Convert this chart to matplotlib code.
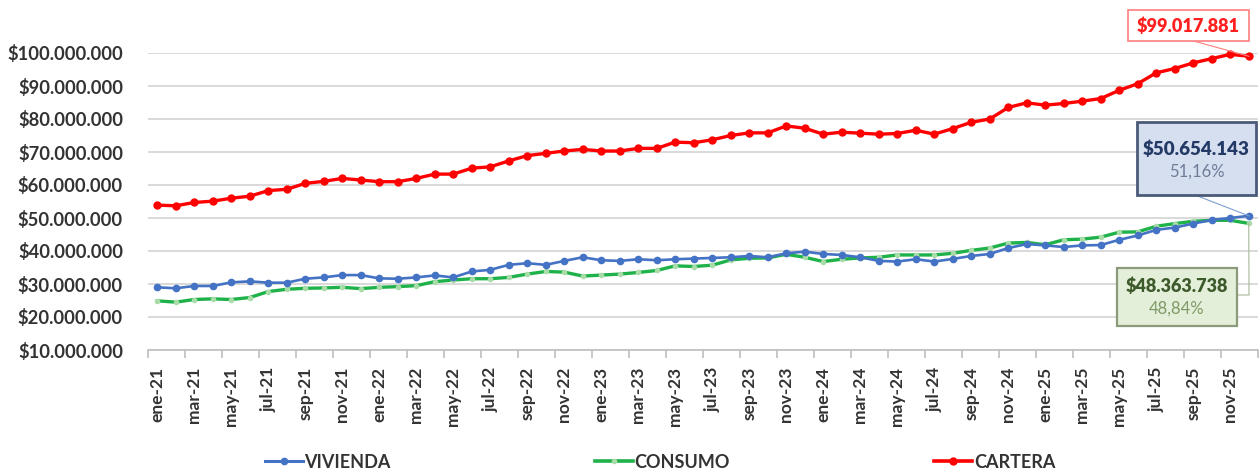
import matplotlib
matplotlib.use("Agg")
import matplotlib.pyplot as plt
from matplotlib.patches import Rectangle
from matplotlib.lines import Line2D
from matplotlib.ticker import FuncFormatter, FixedLocator

# ---------------- data (millions of pesos) ----------------
meses = ['ene', 'feb', 'mar', 'abr', 'may', 'jun', 'jul', 'ago', 'sep', 'oct', 'nov', 'dic']
anios = ['21', '22', '23', '24', '25']
categorias = [f"{m}-{a}" for a in anios for m in meses]

vivienda = [29.0, 28.7, 29.4, 29.4, 30.5, 30.8, 30.4, 30.4, 31.6, 32.0,
            32.7, 32.7, 31.7, 31.6, 32.0, 32.6, 32.0, 33.8, 34.3, 35.8,
            36.3, 35.8, 37.0, 38.1, 37.2, 37.0, 37.5, 37.2, 37.5, 37.7,
            37.9, 38.1, 38.5, 38.1, 39.3, 39.8, 39.1, 38.8, 38.1, 37.0,
            36.8, 37.5, 36.8, 37.6, 38.5, 39.1, 40.9, 42.1, 41.7, 41.2,
            41.7, 41.8, 43.4, 44.7, 46.4, 47.1, 48.3, 49.4, 50.0, 50.654143]

consumo = [24.9, 24.5, 25.3, 25.5, 25.3, 25.9, 27.7, 28.4, 28.7, 28.8,
           29.0, 28.6, 29.0, 29.2, 29.5, 30.7, 31.2, 31.6, 31.6, 32.0,
           33.0, 33.8, 33.6, 32.4, 32.7, 33.0, 33.5, 34.1, 35.5, 35.3,
           35.7, 37.3, 37.8, 37.9, 39.0, 38.1, 36.8, 37.5, 37.9, 38.1,
           38.8, 38.8, 38.8, 39.3, 40.2, 40.9, 42.4, 42.6, 41.9, 43.4,
           43.6, 44.2, 45.7, 45.8, 47.5, 48.3, 49.0, 49.3, 49.3, 48.363738]

cartera = [53.9, 53.7, 54.7, 55.1, 56.0, 56.6, 58.3, 58.7, 60.5, 61.1,
           62.0, 61.5, 61.0, 61.0, 62.0, 63.3, 63.3, 65.1, 65.5, 67.3,
           68.9, 69.6, 70.3, 70.8, 70.3, 70.3, 71.1, 71.1, 73.0, 72.8,
           73.7, 75.0, 75.8, 75.8, 77.9, 77.2, 75.4, 76.0, 75.7, 75.4,
           75.6, 76.6, 75.4, 77.1, 79.0, 80.0, 83.5, 84.9, 84.2, 84.7,
           85.4, 86.2, 88.7, 90.7, 94.0, 95.3, 97.0, 98.3, 99.6, 99.017881]

etiqueta_cartera = "$99.017.881"
etiqueta_vivienda = ("$50.654.143", "51,16%")
etiqueta_consumo = ("$48.363.738", "48,84%")

# ---------------- figure ----------------
W, H = 1260, 472
fig = plt.figure(figsize=(W / 100, H / 100), dpi=100)
FONT = "Lato"
TXT = "#333333"

def fx(px):
    return px / W

def fy(py):  # py measured from top
    return 1 - py / H

ax = fig.add_axes([fx(148), fy(350), fx(1258) - fx(148), fy(53) - fy(350)])

x = list(range(len(categorias)))
c_viv, c_con, c_car = "#4472c4", "#1fb24a", "#ff0000"

ax.plot(x, consumo, color=c_con, lw=2.4, marker="o", ms=3.0, mfc="#a8dca8",
        mec="#a8dca8", zorder=3, clip_on=False)
ax.plot(x, vivienda, color=c_viv, lw=1.9, marker="o", ms=4.5, mfc=c_viv,
        mec=c_viv, zorder=4, clip_on=False)
ax.plot(x, cartera, color=c_car, lw=2.4, marker="o", ms=5, mfc=c_car,
        mec=c_car, zorder=4, clip_on=False)

ax.set_xlim(-0.5, len(categorias) - 0.5)
ax.set_ylim(10, 100)
ax.set_yticks(range(10, 101, 10))
ax.yaxis.set_major_formatter(FuncFormatter(lambda v, p: "$" + f"{int(round(v * 1e6)):,}".replace(",", ".")))
ax.grid(axis="y", color="#d9d9d9", lw=1.4)
ax.set_axisbelow(True)

ax.set_xticks(x[::2])
ax.set_xticklabels(categorias[::2], rotation=90)
ax.xaxis.set_minor_locator(FixedLocator([i - 0.5 for i in range(0, len(categorias) + 1, 2)]))
ax.tick_params(axis="x", which="major", length=0, pad=12)
ax.tick_params(axis="x", which="minor", length=6, color="#bfbfbf", width=1.2)
ax.tick_params(axis="y", length=0, pad=18)

for lab in ax.get_xticklabels():
    lab.set_fontfamily(FONT); lab.set_fontweight("bold"); lab.set_fontsize(12.5); lab.set_color(TXT)
for lab in ax.get_yticklabels():
    lab.set_fontfamily(FONT); lab.set_fontweight("bold"); lab.set_fontsize(13.2); lab.set_color(TXT)

for s in ["top", "right", "left"]:
    ax.spines[s].set_visible(False)
ax.spines["bottom"].set_color("#bfbfbf")
ax.spines["bottom"].set_linewidth(1.2)

# ---------------- data labels ----------------
last = len(categorias) - 1

def box(x0, y0, x1, y1, fc, ec, lw):
    r = Rectangle((fx(x0), fy(y1)), fx(x1) - fx(x0), fy(y0) - fy(y1),
                  transform=fig.transFigure, fc=fc, ec=ec, lw=lw, zorder=10)
    fig.add_artist(r)

def leader(pts_px, xy_data, color):
    xs = [fx(p[0]) for p in pts_px]
    ys = [fy(p[1]) for p in pts_px]
    disp = ax.transData.transform(xy_data)
    fxy = fig.transFigure.inverted().transform(disp)
    xs.append(fxy[0]); ys.append(fxy[1])
    fig.add_artist(Line2D(xs, ys, transform=fig.transFigure, color=color, lw=0.8, zorder=9))

# CARTERA
leader([(1190, 40)], (last, cartera[-1]), "#ff8080")
box(1128, 10, 1249, 41, "white", "#ff7f7f", 1.2)
fig.text(fx(1188.5), fy(26), etiqueta_cartera, ha="center", va="center",
         fontfamily=FONT, fontweight="heavy", fontsize=13, color="#ff2020", zorder=11)

# VIVIENDA
leader([(1195, 195)], (last, vivienda[-1]), "#7f9fd0")
box(1137, 122, 1256, 195, "#d6dff0", "#4a5a78", 2.0)
fig.text(fx(1196.5), fy(149), etiqueta_vivienda[0], ha="center", va="center",
         fontfamily=FONT, fontweight="heavy", fontsize=13.5, color="#243a66", zorder=11)
fig.text(fx(1196.5), fy(172), etiqueta_vivienda[1], ha="center", va="center",
         fontfamily=FONT, fontsize=12, color="#6f7c98", zorder=11)

# CONSUMO
leader([(1237, 295), (1249, 295)], (last, consumo[-1]), "#a8b898")
box(1117, 268, 1237, 326, "#e3efd9", "#8a9a7a", 1.6)
fig.text(fx(1177), fy(286), etiqueta_consumo[0], ha="center", va="center",
         fontfamily=FONT, fontweight="heavy", fontsize=13, color="#3d5a2a", zorder=11)
fig.text(fx(1177), fy(309), etiqueta_consumo[1], ha="center", va="center",
         fontfamily=FONT, fontsize=12, color="#7f9a68", zorder=11)

# ---------------- legend ----------------
handles = [
    Line2D([], [], color=c_viv, lw=2.2, marker="o", ms=4.5),
    Line2D([], [], color=c_con, lw=2.6, marker="o", ms=3.0, mfc="#a8dca8", mec="#a8dca8"),
    Line2D([], [], color=c_car, lw=2.6, marker="o", ms=5),
]
leg = fig.legend(handles, ["VIVIENDA", "CONSUMO", "CARTERA"], loc="center",
                 bbox_to_anchor=(fx(660), fy(462)), ncol=3, frameon=False,
                 handlelength=2.1, handletextpad=0.1, columnspacing=11.3,
                 prop={"family": FONT, "weight": "bold", "size": 13})
for t in leg.get_texts():
    t.set_color(TXT)

fig.savefig("out.png", dpi=100, facecolor="white")
